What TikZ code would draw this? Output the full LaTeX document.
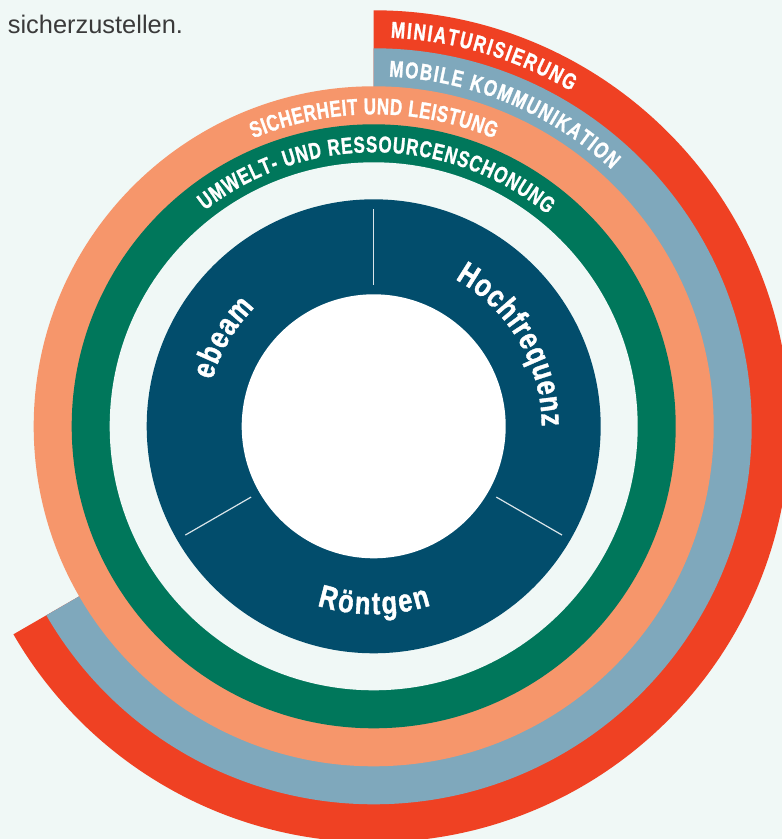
\documentclass[tikz,border=0pt]{standalone}
\usepackage{fontspec}
\setmainfont{Liberation Sans}
\newfontfamily\ringfont[FakeStretch=0.74,FakeBold=1.2]{Liberation Sans Bold}
\newfontfamily\corefont[FakeStretch=0.8,FakeBold=1.2]{Liberation Sans Bold}
\usetikzlibrary{decorations.text}
\definecolor{bgmint}{HTML}{F0F8F6}
\definecolor{ringred}{HTML}{EF4123}
\definecolor{ringblue}{HTML}{7FA8BC}
\definecolor{ringsalmon}{HTML}{F6966B}
\definecolor{ringgreen}{HTML}{00775B}
\definecolor{corenavy}{HTML}{024D6C}
\definecolor{bodygray}{HTML}{3A3A3A}
\tikzset{
  ringlabel/.style={decorate,decoration={text along path,text color=white,
    text align=fit to path,text={|\ringfont\fontsize{23}{23}\selectfont|#1}}},
  corelabel/.style={decorate,decoration={text along path,text color=white,
    text align=fit to path,text={|\corefont\fontsize{32}{32}\selectfont|#1}}},
  divider/.style={draw=white,line width=1.2bp,opacity=0.85},
}
\begin{document}
\begin{tikzpicture}[line join=bevel,]
%%
\fill[bgmint] (-373.7bp,-412.7bp) rectangle (408.3bp,426.3bp);
\useasboundingbox (-373.7bp,-412.7bp) rectangle (408.3bp,426.3bp);
%% open rings
\fill[ringred] (0,0) -- (90:416bp) arc[start angle=90,end angle=-150,radius=416bp] -- cycle;
\fill[ringblue] (0,0) -- (90:378bp) arc[start angle=90,end angle=-150,radius=378bp] -- cycle;
%% closed rings
\fill[ringsalmon] (0,0) circle[radius=340bp];
\fill[ringgreen] (0,0) circle[radius=302bp];
\fill[bgmint] (0,0) circle[radius=264bp];
\fill[corenavy] (0,0) circle[radius=227bp];
\fill[white] (0,0) circle[radius=132bp];
\foreach \a in {90,210,330}
  \draw[divider] (\a:141.5bp) -- (\a:217.5bp);
%% ring texts
\path[ringlabel={MINIATURISIERUNG}] (87.5:389bp) arc[start angle=87.5,end angle=59.5,radius=389bp];
\path[ringlabel={MOBILE KOMMUNIKATION}] (87.5:350bp) arc[start angle=87.5,end angle=47.2,radius=350bp];
\path[ringlabel={SICHERHEIT UND LEISTUNG}] (112.7:312bp) arc[start angle=112.7,end angle=67.3,radius=312bp];
\path[ringlabel={UMWELT- UND RESSOURCENSCHONUNG}] (128:274bp) arc[start angle=128,end angle=50.7,radius=274bp];
%% core texts
\path[corelabel={Hochfrequenz}] (61:168bp) arc[start angle=61,end angle=0,radius=168bp];
\path[corelabel={ebeam}] (164:168bp) arc[start angle=164,end angle=135,radius=168bp];
\path[corelabel={Röntgen}] (252.5:188bp) arc[start angle=252.5,end angle=287.7,radius=188bp];
%
\node (intro) at (-366bp,393bp) [anchor=base west,inner sep=0pt,text=bodygray,font=\fontsize{25.5}{25.5}\selectfont] {sicherzustellen.};
\end{tikzpicture}
\end{document}
